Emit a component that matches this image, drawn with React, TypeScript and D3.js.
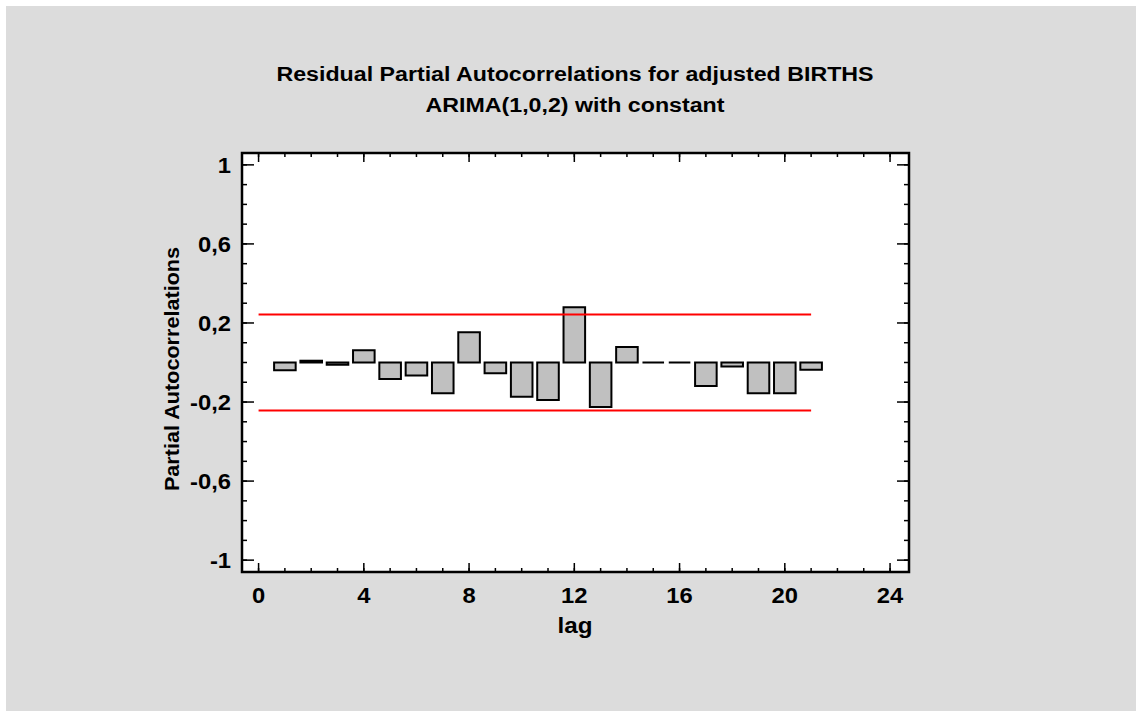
import React from "react";
import * as d3 from "d3";

const lags = [1,2,3,4,5,6,7,8,9,10,11,12,13,14,15,16,17,18,19,20,21];
const pacf = [-0.039,0.009,-0.011,0.062,-0.084,-0.066,-0.155,0.153,-0.055,-0.173,-0.19,0.279,-0.225,0.079,0.0,0.0,-0.119,-0.02,-0.155,-0.155,-0.037];
const limit = 0.243;
const xTicks = [0,4,8,12,16,20,24];
const yTicks = [-1,-0.6,-0.2,0.2,0.6,1];
const titleLines = ["Residual Partial Autocorrelations for adjusted BIRTHS","ARIMA(1,0,2) with constant"];

const W = 1136, H = 711;
const L = 242, R = 909, T = 153, B = 572;
const FONT = "'Liberation Sans', Arial, sans-serif";

function SText(props: { x: number; y: number; size: number; sx: number; anchor: string; rotate?: number; children: any }) {
  const { x, y, size, sx, anchor, rotate, children } = props;
  const tr = `translate(${x},${y})` + (rotate ? ` rotate(${rotate})` : "") + ` scale(${sx},1)`;
  return (
    <text transform={tr} textAnchor={anchor} fontFamily={FONT} fontWeight="bold" fontSize={size} fill="#000">{children}</text>
  );
}

export default function App() {
  const x = d3.scaleLinear().domain([-0.63, 24.72]).range([L, R]);
  const y = d3.scaleLinear().domain([-1.06, 1.06]).range([B, T]);
  const minorX = d3.range(0, 25, 1);
  const minorY = d3.range(-10, 11, 1).map(v => v / 10);
  const bw = 0.82;
  const fmt = (v: number) => (Math.round(v * 10) / 10).toString().replace(".", ",");
  const barPath = (lag: number, v: number) => {
    const p = d3.path();
    const x0 = x(lag - bw / 2), x1 = x(lag + bw / 2);
    const y0 = y(0), y1 = y(v);
    p.moveTo(x0, y0); p.lineTo(x1, y0); p.lineTo(x1, y1); p.lineTo(x0, y1); p.closePath();
    return p.toString();
  };
  return (
    <svg width={W} height={H} style={{ position: "absolute", left: 0, top: 0, background: "#fff" }}>
      <rect x={6} y={6} width={W - 6} height={H - 6} fill="#dcdcdc" />
      {titleLines.map((t, i) => (
        <SText key={i} x={575} y={81 + i * 31} size={19.5} sx={1.19} anchor="middle">{t}</SText>
      ))}
      <rect x={L} y={T} width={R - L} height={B - T} fill="#fff" />
      {minorX.map(v => (
        <g key={"mx" + v}>
          <line x1={x(v)} x2={x(v)} y1={B} y2={B - 4} stroke="#000" strokeWidth={1.5} />
          <line x1={x(v)} x2={x(v)} y1={T} y2={T + 4} stroke="#000" strokeWidth={1.5} />
        </g>
      ))}
      {minorY.map(v => (
        <g key={"my" + v}>
          <line x1={L} x2={L + 5} y1={y(v)} y2={y(v)} stroke="#000" strokeWidth={1.5} />
          <line x1={R} x2={R - 5} y1={y(v)} y2={y(v)} stroke="#000" strokeWidth={1.5} />
        </g>
      ))}
      {xTicks.map(v => (
        <g key={"x" + v}>
          <line x1={x(v)} x2={x(v)} y1={B} y2={B - 9} stroke="#000" strokeWidth={1.5} />
          <line x1={x(v)} x2={x(v)} y1={T} y2={T + 9} stroke="#000" strokeWidth={1.5} />
          <SText x={x(v)} y={603} size={22} sx={1.08} anchor="middle">{v}</SText>
        </g>
      ))}
      {yTicks.map(v => (
        <g key={"y" + v}>
          <line x1={L} x2={L + 12} y1={y(v)} y2={y(v)} stroke="#000" strokeWidth={1.5} />
          <line x1={R} x2={R - 12} y1={y(v)} y2={y(v)} stroke="#000" strokeWidth={1.5} />
          <SText x={231} y={y(v) + 8} size={22} sx={1.08} anchor="end">{fmt(v)}</SText>
        </g>
      ))}
      {lags.map((l, i) => (
        <path key={"b" + l} d={barPath(l, pacf[i])} fill="#c0c0c0" stroke="#000" strokeWidth={2} />
      ))}
      <line x1={x(0)} x2={x(21)} y1={y(limit)} y2={y(limit)} stroke="#ff0000" strokeWidth={2} />
      <line x1={x(0)} x2={x(21)} y1={y(-limit)} y2={y(-limit)} stroke="#ff0000" strokeWidth={2} />
      <rect x={L} y={T} width={R - L} height={B - T} fill="none" stroke="#000" strokeWidth={2.5} />
      <SText x={575} y={633} size={22} sx={1.1} anchor="middle">lag</SText>
      <SText x={179} y={369} size={21} sx={1.03} anchor="middle" rotate={-90}>Partial Autocorrelations</SText>
    </svg>
  );
}
